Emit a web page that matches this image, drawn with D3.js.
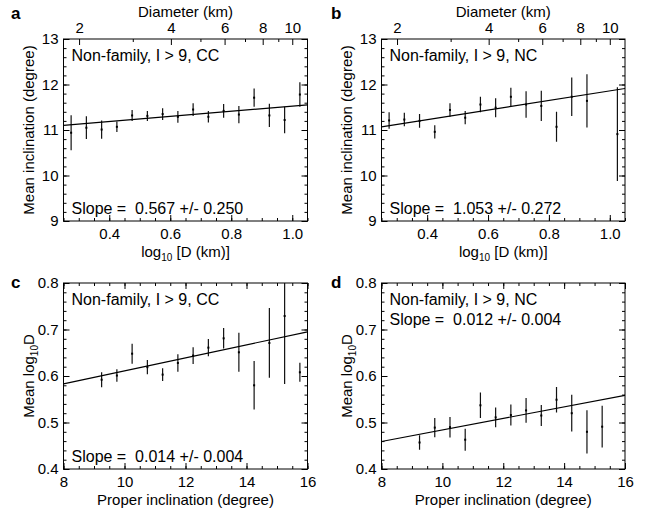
<!DOCTYPE html>
<html>
<head>
<meta charset="utf-8">
<script src="https://cdn.jsdelivr.net/npm/d3@7"></script>
<style>
  body { margin: 0; background: #fff; }
  svg text { font-family: "Liberation Sans", Arial, Helvetica, sans-serif; fill: #000; }
</style>
</head>
<body>
<svg id="chart" width="655" height="519"></svg>
<script>
// ---------- data ----------
const logDBins = [0.275, 0.325, 0.375, 0.425, 0.475, 0.525, 0.575, 0.625, 0.675, 0.725, 0.775, 0.825, 0.875, 0.925, 0.975, 1.025];
const ccMeanInc = [10.94, 11.05, 11.01, 11.07, 11.32, 11.31, 11.35, 11.29, 11.45, 11.29, 11.42, 11.34, 11.71, 11.32, 11.22, 11.78];
const ccIncErr  = [0.385, 0.25, 0.20, 0.115, 0.12, 0.11, 0.13, 0.13, 0.14, 0.125, 0.15, 0.19, 0.20, 0.255, 0.29, 0.27];
const ncMeanInc = [11.21, 11.23, 11.20, 10.96, 11.44, 11.27, 11.56, 11.49, 11.73, 11.56, 11.53, 11.07, 11.73, 11.64, null, 10.91];
const ncIncErr  = [0.18, 0.15, 0.15, 0.145, 0.15, 0.145, 0.17, 0.21, 0.20, 0.29, 0.33, 0.33, 0.425, 0.585, null, 1.03];

const incBins = [9.25, 9.75, 10.25, 10.75, 11.25, 11.75, 12.25, 12.75, 13.25, 13.75, 14.25, 14.75, 15.25, 15.75];
const ccMeanLogD = [0.592, 0.601, 0.648, 0.619, 0.603, 0.628, 0.644, 0.661, 0.681, 0.651, 0.580, 0.671, 0.729, 0.608];
const ccLogDErr  = [0.016, 0.0135, 0.0215, 0.0155, 0.0135, 0.019, 0.018, 0.0185, 0.022, 0.042, 0.052, 0.075, 0.146, 0.0205];
const ncMeanLogD = [0.457, 0.489, 0.490, 0.463, 0.537, 0.511, 0.516, 0.526, 0.515, 0.549, 0.520, 0.480, 0.491];
const ncLogDErr  = [0.0155, 0.0205, 0.022, 0.0235, 0.0275, 0.021, 0.0225, 0.0265, 0.0225, 0.0275, 0.0395, 0.0465, 0.045];

// fitted lines: [intercept, slope]
const fitA = [10.958, 0.567];
const fitB = [10.807, 1.053];
const fitC = [0.471, 0.014];
const fitD = [0.360, 0.0124];

const panelLetters = ["a", "b", "c", "d"];
const labelsTop = ["Non-family, I > 9, CC", "Non-family, I > 9, NC", "Non-family, I > 9, CC", "Non-family, I > 9, NC"];
const slopeTexts = ["Slope =  0.567 +/- 0.250", "Slope =  1.053 +/- 0.272", "Slope =  0.014 +/- 0.004", "Slope =  0.012 +/- 0.004"];

const logDTicks = [0.4, 0.6, 0.8, 1.0];
const diamMajor = [2, 4, 6, 8, 10];
const diamMinor = [3, 5, 7, 9];
const incTicksY = [9, 10, 11, 12, 13];
const propIncTicks = [8, 10, 12, 14, 16];
const logDTicksY = [0.4, 0.5, 0.6, 0.7, 0.8];

// ---------- drawing ----------
const svg = d3.select("#chart");
const TICK_FS = 15, TXT_FS = 16;

function range(a, b, s) { const r = []; for (let v = a; v <= b + 1e-9; v += s) r.push(+v.toFixed(6)); return r; }

function panel(o) {
  const x = d3.scaleLinear().domain(o.xDomain).range([o.left, o.right]);
  const y = d3.scaleLinear().domain(o.yDomain).range([o.bottom, o.top]);
  const g = svg.append("g");

  const clipId = "clip-" + o.key;
  svg.append("clipPath").attr("id", clipId).append("rect")
    .attr("x", o.left).attr("y", o.top).attr("width", o.right - o.left).attr("height", o.bottom - o.top);

  const styleAxis = sel => {
    sel.select(".domain").remove();
    sel.selectAll("line").attr("stroke", "#000").attr("stroke-width", 1);
    sel.selectAll("text").attr("font-size", TICK_FS).attr("font-family", null).attr("fill", "#000");
  };

  // bottom
  g.append("g").attr("transform", `translate(0,${o.bottom})`)
    .call(d3.axisBottom(x).tickValues(o.xMinor).tickSize(-3).tickFormat("")).call(styleAxis);
  g.append("g").attr("transform", `translate(0,${o.bottom})`)
    .call(d3.axisBottom(x).tickValues(o.xMajor).tickSize(-6).tickPadding(7).tickFormat(o.xFmt)).call(styleAxis);

  // top
  if (o.topLog) {
    g.append("g").attr("transform", `translate(0,${o.top})`)
      .call(d3.axisTop(x).tickValues(diamMinor.map(Math.log10)).tickSize(-3).tickFormat("")).call(styleAxis);
    g.append("g").attr("transform", `translate(0,${o.top})`)
      .call(d3.axisTop(x).tickValues(diamMajor.map(Math.log10)).tickSize(-6).tickPadding(6)
        .tickFormat(v => String(Math.round(Math.pow(10, v))))).call(styleAxis);
    g.append("text").attr("x", (o.left + o.right) / 2).attr("y", o.top - 22)
      .attr("text-anchor", "middle").attr("font-size", TICK_FS).text("Diameter (km)");
  } else {
    g.append("g").attr("transform", `translate(0,${o.top})`)
      .call(d3.axisTop(x).tickValues(o.xMinor).tickSize(-3).tickFormat("")).call(styleAxis);
    g.append("g").attr("transform", `translate(0,${o.top})`)
      .call(d3.axisTop(x).tickValues(o.xMajor).tickSize(-6).tickFormat("")).call(styleAxis);
  }

  // left / right
  g.append("g").attr("transform", `translate(${o.left},0)`)
    .call(d3.axisLeft(y).tickValues(o.yMinor).tickSize(-3).tickFormat("")).call(styleAxis);
  g.append("g").attr("transform", `translate(${o.left},0)`)
    .call(d3.axisLeft(y).tickValues(o.yMajor).tickSize(-6).tickPadding(5).tickFormat(o.yFmt)).call(styleAxis);
  g.append("g").attr("transform", `translate(${o.right},0)`)
    .call(d3.axisRight(y).tickValues(o.yMinor).tickSize(-3).tickFormat("")).call(styleAxis);
  g.append("g").attr("transform", `translate(${o.right},0)`)
    .call(d3.axisRight(y).tickValues(o.yMajor).tickSize(-6).tickFormat("")).call(styleAxis);

  // frame
  g.append("rect").attr("x", o.left).attr("y", o.top)
    .attr("width", o.right - o.left).attr("height", o.bottom - o.top)
    .attr("fill", "none").attr("stroke", "#000").attr("stroke-width", 1);

  // data
  const pts = o.xs.map((xv, i) => ({ x: xv, m: o.means[i], e: o.errs[i] })).filter(d => d.m != null);
  const dg = g.append("g").attr("clip-path", `url(#${clipId})`);
  dg.selectAll("line.err").data(pts).join("line").attr("class", "err")
    .attr("x1", d => x(d.x)).attr("x2", d => x(d.x))
    .attr("y1", d => y(d.m - d.e)).attr("y2", d => y(d.m + d.e))
    .attr("stroke", "#111").attr("stroke-width", 1.2);
  dg.selectAll("rect.pt").data(pts).join("rect").attr("class", "pt")
    .attr("x", d => x(d.x) - 1).attr("y", d => y(d.m) - 1)
    .attr("width", 2).attr("height", 2).attr("fill", "#000");

  // fit line
  const line = d3.line().x(d => x(d)).y(d => y(o.fit[0] + o.fit[1] * d));
  dg.append("path").datum(o.xDomain).attr("d", line)
    .attr("fill", "none").attr("stroke", "#000").attr("stroke-width", 1.2);

  // annotations
  g.append("text").attr("x", o.left + 8).attr("y", o.top + 22).attr("font-size", TXT_FS).text(o.label);
  g.append("text").attr("x", o.left + 8).attr("y", o.slopeY)
    .attr("font-size", TXT_FS).attr("xml:space", "preserve").style("white-space", "pre").text(o.slope);

  // panel letter
  g.append("text").attr("x", o.letterX).attr("y", o.letterY)
    .attr("font-size", 17).attr("font-weight", "bold").text(o.letter);

  // x title
  const xt = g.append("text").attr("x", (o.left + o.right) / 2).attr("y", o.bottom + 36)
    .attr("text-anchor", "middle").attr("font-size", TICK_FS);
  o.xTitle(xt);

  // y title
  const yt = g.append("text")
    .attr("transform", `translate(${o.left - 30},${(o.top + o.bottom) / 2}) rotate(-90)`)
    .attr("text-anchor", "middle").attr("font-size", TICK_FS);
  o.yTitle(yt);
}

const logTitle = t => { t.append("tspan").text("log"); t.append("tspan").attr("font-size", 10).attr("dy", 4).text("10");
  t.append("tspan").attr("dy", -4).text(" [D (km)]"); };
const incTitle = t => t.text("Mean inclination (degree)");
const propTitle = t => t.text("Proper inclination (degree)");
const logDYTitle = t => { t.append("tspan").text("Mean log"); t.append("tspan").attr("font-size", 10).attr("dy", 4).text("10");
  t.append("tspan").attr("dy", -4).text("D"); };

const fmt1 = d3.format(".1f");
const fmtInt = d3.format("d");

const topRow = { top: 39, bottom: 221, xDomain: [0.25, 1.05], yDomain: [9, 13], topLog: true,
  xMajor: logDTicks, xMinor: range(0.25, 1.05, 0.05), xFmt: fmt1,
  yMajor: incTicksY, yMinor: range(9, 13, 0.2), yFmt: fmtInt,
  xs: logDBins, xTitle: logTitle, yTitle: incTitle, letterY: 19 };
const botRow = { top: 283, bottom: 469, xDomain: [8, 16], yDomain: [0.4, 0.8], topLog: false,
  xMajor: propIncTicks, xMinor: range(8, 16, 0.5), xFmt: fmtInt,
  yMajor: logDTicksY, yMinor: range(0.4, 0.8, 0.02), yFmt: fmt1,
  xs: incBins, xTitle: propTitle, yTitle: logDYTitle, letterY: 288 };

const leftCol = { left: 63.5, right: 307.5, letterX: 11 };
const rightCol = { left: 381.5, right: 625, letterX: 331 };

panel(Object.assign({}, topRow, leftCol, { key: "a", letter: panelLetters[0], means: ccMeanInc, errs: ccIncErr, fit: fitA,
  label: labelsTop[0], slope: slopeTexts[0], slopeY: 214 }));
panel(Object.assign({}, topRow, rightCol, { key: "b", letter: panelLetters[1], means: ncMeanInc, errs: ncIncErr, fit: fitB,
  label: labelsTop[1], slope: slopeTexts[1], slopeY: 214 }));
panel(Object.assign({}, botRow, leftCol, { key: "c", letter: panelLetters[2], means: ccMeanLogD, errs: ccLogDErr, fit: fitC,
  label: labelsTop[2], slope: slopeTexts[2], slopeY: 462 }));
panel(Object.assign({}, botRow, rightCol, { key: "d", letter: panelLetters[3], xs: incBins.slice(0, 13), means: ncMeanLogD, errs: ncLogDErr, fit: fitD,
  label: labelsTop[3], slope: slopeTexts[3], slopeY: 325 }));
</script>
</body>
</html>
